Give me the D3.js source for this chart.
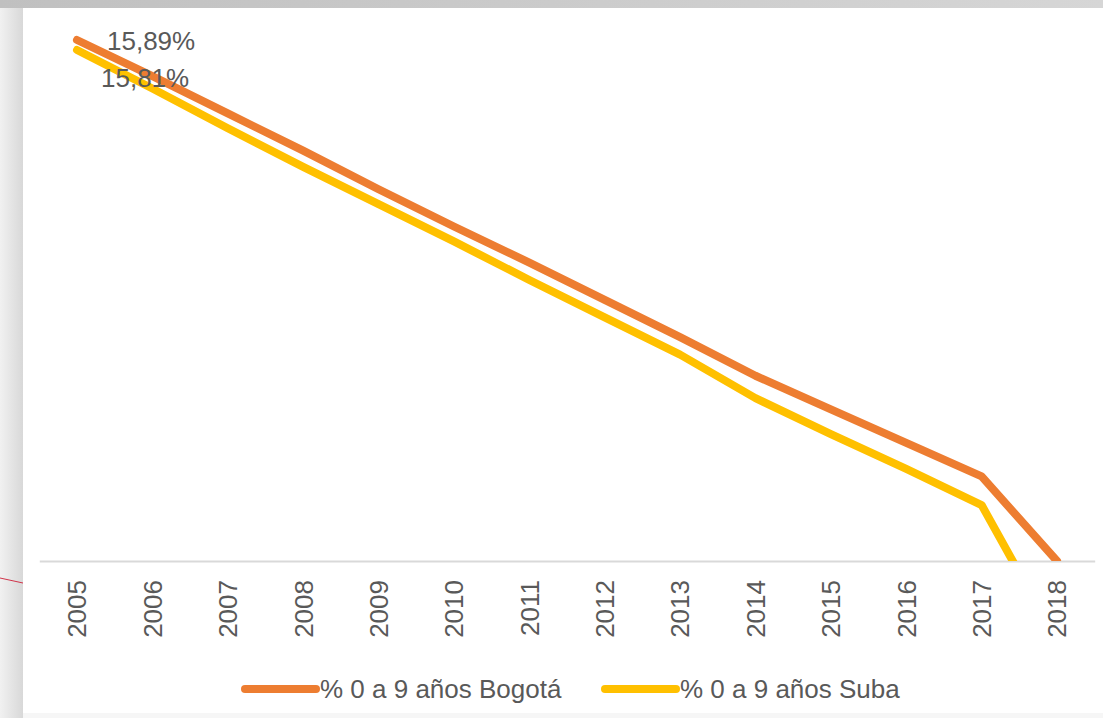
<!DOCTYPE html>
<html>
<head>
<meta charset="utf-8">
<script src="https://cdnjs.cloudflare.com/ajax/libs/d3/7.8.5/d3.min.js"></script>
<style>
  html, body { margin: 0; padding: 0; background: #fff; }
  svg { display: block; }
</style>
</head>
<body>
<div id="chart"></div>
<script>
'use strict';

// data
var years = ['2005', '2006', '2007', '2008', '2009', '2010', '2011',
  '2012', '2013', '2014', '2015', '2016', '2017', '2018'];
var bogota = [15.89, 15.60, 15.30, 15.00, 14.69, 14.39, 14.10,
  13.80, 13.50, 13.19, 12.92, 12.65, 12.38, 11.70];
var suba = [15.81, 15.50, 15.18, 14.87, 14.57, 14.27, 13.96,
  13.66, 13.36, 13.01, 12.72, 12.44, 12.15, 11.06];
var seriesNames = ['% 0 a 9 años Bogotá', '% 0 a 9 años Suba'];
var yDomain = [11.7, 16.1];

(function () {
  var W = 1103, H = 718,
    colors = ['#ED7D31', '#FFC000'],
    textColor = '#595959',
    font = '"Liberation Sans", Arial, sans-serif',
    axisY = 561;

  var svg = d3.select('#chart').append('svg')
    .attr('width', W)
    .attr('height', H);

  var defs = svg.append('defs');
  var gTop = defs.append('linearGradient').attr('id', 'gTop');
  gTop.append('stop').attr('offset', '0%').attr('stop-color', '#c0c0c0');
  gTop.append('stop').attr('offset', '100%').attr('stop-color', '#d6d6d6');
  var gLeft = defs.append('linearGradient').attr('id', 'gLeft');
  gLeft.append('stop').attr('offset', '0%').attr('stop-color', '#f1f1f1');
  gLeft.append('stop').attr('offset', '100%').attr('stop-color', '#d8d8d8');
  defs.append('clipPath').attr('id', 'plotClip')
    .append('rect').attr('x', 0).attr('y', 0).attr('width', W).attr('height', axisY);

  // frame around the white panel
  svg.append('rect').attr('width', W).attr('height', H).attr('fill', '#f6f6f6');
  svg.append('rect').attr('width', W).attr('height', 8).attr('fill', 'url(#gTop)');
  svg.append('rect').attr('y', 8).attr('width', 23).attr('height', H - 8).attr('fill', 'url(#gLeft)');
  svg.append('rect').attr('x', 23).attr('y', 8).attr('width', W - 23).attr('height', 705).attr('fill', '#fff');
  svg.append('line')
    .attr('x1', 0).attr('y1', 578).attr('x2', 23).attr('y2', 583)
    .attr('stroke', '#d0344a').attr('stroke-width', 1);

  var x = d3.scaleBand()
    .domain(years)
    .range([39.3, 1094.7]);

  var y = d3.scaleLinear()
    .domain(yDomain)
    .range([axisY, 13.9]);

  var cx = function (d) { return x(d) + x.bandwidth() / 2; };

  // x axis
  var xAxis = svg.append('g')
    .attr('transform', 'translate(0,' + axisY + ')')
    .call(d3.axisBottom(x).tickSize(0).tickSizeOuter(0));

  xAxis.select('.domain')
    .attr('stroke', '#d9d9d9')
    .attr('stroke-width', 2);

  xAxis.selectAll('.tick text')
    .attr('font-family', font)
    .attr('font-size', 26)
    .attr('fill', textColor)
    .attr('text-anchor', 'end')
    .attr('transform', 'rotate(-90)')
    .attr('x', -19)
    .attr('y', 0)
    .attr('dy', '0.36em');

  // lines
  var line = d3.line()
    .x(function (d, i) { return cx(years[i]); })
    .y(function (d) { return y(d); });

  var lines = svg.append('g')
    .attr('clip-path', 'url(#plotClip)');

  [bogota, suba].forEach(function (vals, k) {
    lines.append('path')
      .datum(vals)
      .attr('fill', 'none')
      .attr('stroke', colors[k])
      .attr('stroke-width', 8)
      .attr('stroke-linecap', 'round')
      .attr('stroke-linejoin', 'round')
      .attr('d', line);
  });

  // data labels on the first point
  var labels = [
    { v: bogota[0], dx: 30, dy: 10 },
    { v: suba[0], dx: 24, dy: 37 }
  ];
  svg.append('g').selectAll('text')
    .data(labels)
    .enter().append('text')
    .attr('x', function (d) { return cx(years[0]) + d.dx; })
    .attr('y', function (d) { return y(d.v) + d.dy; })
    .attr('font-family', font)
    .attr('font-size', 26)
    .attr('fill', textColor)
    .text(function (d) { return d.v.toFixed(2).replace('.', ',') + '%'; });

  // legend
  var legendX = [245, 605];
  var legend = svg.append('g').selectAll('g')
    .data(seriesNames)
    .enter().append('g')
    .attr('transform', function (d, i) { return 'translate(' + legendX[i] + ',689)'; });

  legend.append('line')
    .attr('x1', 0).attr('x2', 71)
    .attr('stroke', function (d, i) { return colors[i]; })
    .attr('stroke-width', 8)
    .attr('stroke-linecap', 'round');

  legend.append('text')
    .attr('x', 75)
    .attr('y', 9)
    .attr('font-family', font)
    .attr('font-size', 26)
    .attr('fill', textColor)
    .text(function (d) { return d; });
})();
</script>
</body>
</html>
